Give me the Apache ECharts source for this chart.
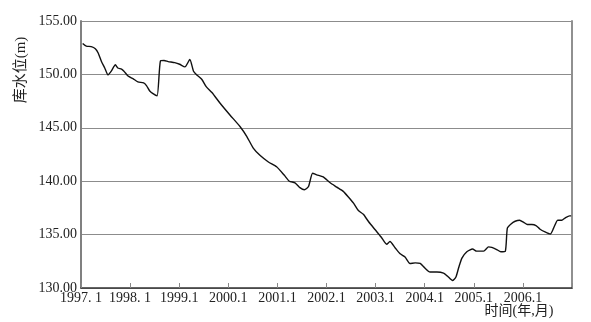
<!DOCTYPE html>
<html>
<head>
<meta charset="utf-8">
<script src="https://cdn.jsdelivr.net/npm/echarts@6/dist/echarts.min.js"></script>
<style>
html,body{margin:0;padding:0;background:#fff;}
#chart{width:591px;height:322px;}
</style>
</head>
<body>
<div id="chart"></div>
<script>
// months elapsed since 1997.1 (x positions of the curve's points)
var months = [0.4,1.3,2.5,3.5,4.2,5.0,5.8,6.6,7.4,8.4,9.0,9.9,10.5,11.5,12.7,13.9,15.3,16.0,16.8,17.6,18.6,19.4,20.3,21.3,22.9,24.1,25.4,26.6,27.5,28.3,29.5,30.6,32.0,34.0,36.4,38.9,40.5,42.1,43.8,45.8,47.8,49.7,50.9,52.3,53.5,54.6,55.6,56.6,57.6,59.2,60.9,62.5,64.1,65.4,66.6,67.8,69.0,70.3,71.9,73.3,74.7,75.5,76.8,78.0,79.2,80.4,81.7,82.9,84.1,85.3,87.0,88.6,89.6,90.8,91.6,92.3,93.1,94.3,95.7,96.7,98.4,99.6,100.4,101.6,102.6,103.7,104.2,105.1,106.1,107.2,108.2,109.1,110.2,111.2,112.2,113.4,114.7,115.5,116.5,117.5,118.3,119.4,119.8];
// reservoir water level (m)
var levels = [152.9,152.65,152.6,152.4,152.0,151.2,150.6,149.95,150.3,150.9,150.6,150.5,150.3,149.85,149.6,149.3,149.2,148.95,148.45,148.2,148.0,151.25,151.3,151.2,151.1,150.95,150.7,151.4,150.3,149.95,149.55,148.85,148.3,147.3,146.2,145.1,144.2,143.1,142.4,141.8,141.35,140.55,140.0,139.85,139.4,139.2,139.5,140.75,140.6,140.4,139.85,139.45,139.05,138.5,137.95,137.25,136.9,136.2,135.45,134.8,134.1,134.35,133.75,133.2,132.9,132.3,132.35,132.3,131.85,131.5,131.5,131.4,131.1,130.7,131.0,131.9,132.8,133.4,133.65,133.45,133.45,133.85,133.8,133.6,133.4,133.45,135.6,136.0,136.25,136.35,136.15,135.95,135.95,135.85,135.5,135.25,135.05,135.6,136.35,136.35,136.55,136.75,136.75];
var xTickLabels = ['1997. 1','1998. 1','1999.1','2000.1','2001.1','2002.1','2003.1','2004.1','2005.1','2006.1',''];
var yTickLabels = {130:'130.00',135:'135.00',140:'140.00',145:'145.00',150:'150.00',155:'155.00'};
var yName = '库水位(m)';
var xName = '时间(年,月)';

var data = months.map(function(m,i){return [m, levels[i]];});
var FONT = "'Liberation Serif','Noto Sans CJK SC',serif";

var chart = echarts.init(document.getElementById('chart'), null, {renderer:'canvas'});
chart.setOption({
  animation:false,
  backgroundColor:'#fff',
  grid:{left:81,right:19,top:21,bottom:34,containLabel:false},
  xAxis:{
    type:'value',min:0,max:120,interval:12,
    axisLine:{show:true,lineStyle:{color:'#333',width:1.5}},
    axisTick:{show:true,inside:true,length:5,lineStyle:{color:'#888',width:1}},
    axisLabel:{color:'#222',fontSize:14,fontFamily:FONT,margin:3,
      formatter:function(v){return xTickLabels[Math.round(v/12)]||'';}},
    splitLine:{show:false}
  },
  yAxis:[{
    type:'value',min:130,max:155,interval:5,
    axisLine:{show:true,lineStyle:{color:'#808080',width:2}},
    axisTick:{show:false},
    axisLabel:{color:'#222',fontSize:14,fontFamily:FONT,margin:4,
      formatter:function(v){return yTickLabels[v]||'';}},
    splitLine:{show:true,lineStyle:{color:'#8c8c8c',width:1}}
  },{
    type:'value',min:130,max:155,interval:5,position:'right',
    axisLine:{show:true,lineStyle:{color:'#909090',width:2}},
    axisTick:{show:false},axisLabel:{show:false},splitLine:{show:false}
  }],
  graphic:[
    {type:'text',x:21,y:70,rotation:Math.PI/2,
     style:{text:yName,fill:'#222',font:"15px "+FONT,textAlign:'center',textVerticalAlign:'middle'}},
    {type:'text',x:519,y:311,
     style:{text:xName,fill:'#222',font:"14px "+FONT,textAlign:'center',textVerticalAlign:'middle'}}
  ],
  series:[{
    type:'line',data:data,showSymbol:false,smooth:0.2,
    lineStyle:{color:'#111',width:1.4}
  }]
});
</script>
</body>
</html>
